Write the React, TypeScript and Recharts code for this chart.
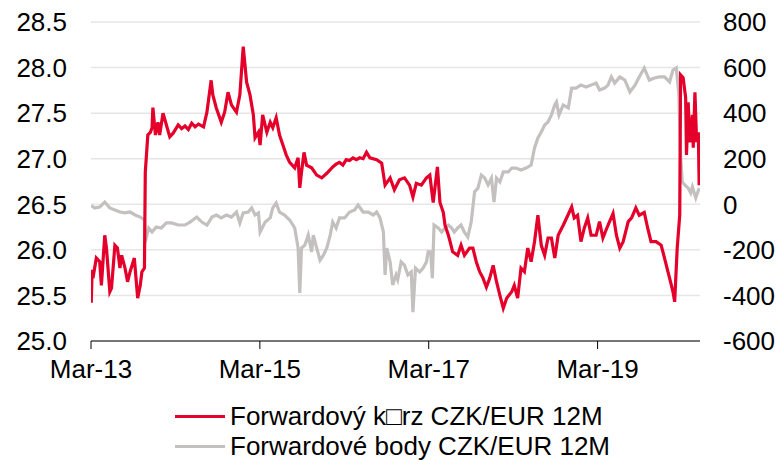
import { LineChart, Line, XAxis, YAxis, CartesianGrid } from "recharts";

const FONT = '"Liberation Sans", Arial, sans-serif';
const RED = "#e4002b";
const GREY = "#c4c0bf";

// x values are decimal years
const rateDates = [
  2013.17, 2013.18, 2013.19, 2013.23, 2013.27, 2013.29, 2013.33, 2013.35, 2013.39, 2013.41,
  2013.45, 2013.48, 2013.51, 2013.53, 2013.57, 2013.6, 2013.63, 2013.68, 2013.72, 2013.75,
  2013.77, 2013.8, 2013.81, 2013.84, 2013.87, 2013.89, 2013.9, 2013.93, 2013.96, 2013.98,
  2014.02, 2014.06, 2014.1, 2014.14, 2014.2, 2014.24, 2014.28, 2014.32, 2014.36, 2014.4,
  2014.44, 2014.5, 2014.54,
  2014.59, 2014.61, 2014.65, 2014.71, 2014.75, 2014.79, 2014.83, 2014.89, 2014.93, 2014.97,
  2015.01, 2015.05, 2015.09, 2015.11, 2015.15, 2015.17, 2015.2, 2015.25, 2015.29, 2015.32,
  2015.36, 2015.4, 2015.44, 2015.48, 2015.52, 2015.58, 2015.62, 2015.64, 2015.66, 2015.69,
  2015.72, 2015.78, 2015.84, 2015.9, 2015.96, 2016.03, 2016.07, 2016.11, 2016.15, 2016.19,
  2016.23, 2016.27, 2016.31, 2016.35, 2016.39,
  2016.43, 2016.47, 2016.55, 2016.61, 2016.65, 2016.71, 2016.76, 2016.82, 2016.88, 2016.94,
  2016.98, 2017.02, 2017.08, 2017.14, 2017.18, 2017.22, 2017.27, 2017.3, 2017.34, 2017.36,
  2017.4, 2017.42, 2017.45, 2017.51, 2017.55, 2017.59, 2017.65, 2017.69, 2017.73, 2017.77,
  2017.81, 2017.85, 2017.89, 2017.93, 2017.97, 2018.01, 2018.05, 2018.09, 2018.15, 2018.18,
  2018.22, 2018.26, 2018.3, 2018.34, 2018.38, 2018.42, 2018.46, 2018.5, 2018.54, 2018.58,
  2018.62, 2018.66, 2018.7, 2018.76, 2018.8, 2018.86, 2018.89, 2018.93, 2018.97, 2019.01,
  2019.05, 2019.09, 2019.15, 2019.19, 2019.23, 2019.29, 2019.35, 2019.39, 2019.43, 2019.47,
  2019.53, 2019.57, 2019.62, 2019.66, 2019.72, 2019.76, 2019.8, 2019.86, 2019.92, 2019.96,
  2020.0, 2020.02, 2020.06, 2020.08, 2020.11, 2020.14, 2020.15, 2020.18, 2020.21, 2020.22,
  2020.24, 2020.26, 2020.29, 2020.3, 2020.32, 2020.34, 2020.36, 2020.37,
];

const forwardRate = [
  25.42, 25.78, 25.69, 25.91, 25.87, 25.61, 26.16, 26.02, 25.54, 25.58,
  26.05, 26.02, 25.8, 25.94, 25.8, 25.65, 25.76, 25.91, 25.47, 25.61,
  25.76, 25.8, 26.85, 27.26, 27.29, 27.34, 27.56, 27.26, 27.4, 27.26,
  27.5, 27.37, 27.24, 27.28, 27.37, 27.33, 27.36, 27.32, 27.39, 27.35,
  27.38, 27.35, 27.51,
  27.86, 27.7, 27.56, 27.4, 27.51, 27.73, 27.59, 27.51, 27.7, 28.23,
  27.84, 27.7, 27.48, 27.23, 27.29, 27.15, 27.48, 27.29, 27.4, 27.34,
  27.45, 27.26, 27.15, 27.04, 26.96, 26.9, 27.01, 26.68, 26.85, 27.07,
  26.93, 26.9, 26.82, 26.79, 26.84, 26.91, 26.94, 26.96, 26.93, 26.99,
  26.98, 27.01, 26.99, 27.01, 27.0,
  27.07, 27.01, 26.99, 26.95, 26.71, 26.79, 26.66, 26.77, 26.79, 26.71,
  26.58, 26.73, 26.71, 26.79, 26.82, 26.52, 26.91, 26.52, 26.41, 26.27,
  26.16, 26.09, 25.98, 25.94, 26.05, 25.94, 26.02, 26.02, 25.87, 25.76,
  25.69, 25.59, 25.69, 25.83, 25.65, 25.5, 25.36, 25.47, 25.54, 25.61,
  25.47, 25.8, 25.76, 26.02, 25.87, 26.09, 26.38, 26.05, 25.94, 26.13,
  26.13, 25.91, 26.16, 26.27, 26.35, 26.47, 26.35, 26.38, 26.09, 26.24,
  26.35, 26.16, 26.16, 26.31, 26.13, 26.27, 26.4, 26.16, 26.02, 26.09,
  26.31, 26.35, 26.46, 26.38, 26.41, 26.24, 26.09, 26.09, 26.05, 25.91,
  25.76, 25.69, 25.54, 25.43, 26.02, 26.38, 27.92, 27.89, 27.67, 27.04,
  27.62, 27.18, 27.48, 27.12, 27.73, 27.18, 27.29, 26.71,
];

const pointsDates = [
  2013.17, 2013.21, 2013.27, 2013.33, 2013.39, 2013.45, 2013.51, 2013.57, 2013.63, 2013.69,
  2013.75, 2013.8, 2013.81, 2013.85, 2013.89, 2013.94, 2014.0, 2014.06, 2014.12, 2014.2,
  2014.28, 2014.34, 2014.42, 2014.48, 2014.54, 2014.6, 2014.65, 2014.71, 2014.77, 2014.83,
  2014.89, 2014.93, 2014.97, 2015.03, 2015.07, 2015.11, 2015.15, 2015.17, 2015.23, 2015.29,
  2015.32, 2015.36, 2015.4, 2015.46, 2015.52, 2015.58, 2015.62, 2015.64, 2015.66, 2015.7,
  2015.74, 2015.78, 2015.8, 2015.84, 2015.88, 2015.92, 2015.96, 2016.0, 2016.03, 2016.07,
  2016.11, 2016.17, 2016.23, 2016.29, 2016.33, 2016.39, 2016.45, 2016.51, 2016.55, 2016.59,
  2016.63, 2016.65, 2016.67, 2016.71, 2016.74, 2016.78, 2016.8, 2016.84, 2016.88, 2016.92,
  2016.96, 2016.98, 2017.01, 2017.06, 2017.1, 2017.14, 2017.16, 2017.19, 2017.21, 2017.23,
  2017.28, 2017.32, 2017.36, 2017.4, 2017.44, 2017.47, 2017.51, 2017.55, 2017.59, 2017.63,
  2017.67, 2017.71, 2017.75, 2017.79, 2017.83, 2017.87, 2017.91, 2017.94, 2017.97, 2018.01,
  2018.05, 2018.11, 2018.15, 2018.2, 2018.26, 2018.32, 2018.38, 2018.42, 2018.46, 2018.5,
  2018.54, 2018.58, 2018.62, 2018.66, 2018.68, 2018.71, 2018.76, 2018.82, 2018.86, 2018.91,
  2018.97, 2019.03, 2019.09, 2019.15, 2019.19, 2019.25, 2019.29, 2019.33, 2019.37, 2019.43,
  2019.49, 2019.55, 2019.61, 2019.66, 2019.72, 2019.78, 2019.84, 2019.9, 2019.96, 2020.02,
  2020.06, 2020.1, 2020.13, 2020.15, 2020.17, 2020.2, 2020.24, 2020.27, 2020.29, 2020.33,
  2020.37,
];

const forwardPoints = [
  -5, -16, -12, 10, -16, -25, -34, -38, -34, -47,
  -56, -69, -166, -104, -122, -100, -104, -82, -82, -91,
  -91, -78, -56, -78, -91, -56, -47, -60, -47, -56,
  -34, -82, -38, -34, -16, -47, -38, -122, -78, -60,
  -16, 6, -34, -47, -69, -104, -192, -389, -192, -179,
  -135, -209, -135, -192, -245, -223, -192, -135, -78, -104,
  -60, -60, -34, -25, -3, -34, -34, -47, -34, -60,
  -122, -310, -192, -253, -354, -310, -330, -253, -267, -310,
  -297, -473, -280, -297, -280, -253, -209, -209, -324, -91,
  -104, -122, -104, -91, -104, -122, -104, -91, -122, -144,
  -78, 54, 71, 128, 115, 85, 115, 10, 115, 98,
  142, 142, 159, 159, 150, 159, 172, 247, 291, 317,
  348, 361, 392, 436, 449, 392, 436, 423, 510, 510,
  523, 515, 523, 532, 502, 510, 523, 559, 532, 559,
  545, 493, 523, 559, 598, 545, 554, 559, 559, 537,
  589, 598, 480, 216, 98, 85, 71, 50, 76, 28,
  71,
];

const tickDates = [2013.167, 2015.167, 2017.167, 2019.167];
const tickLabels = ["Mar-13", "Mar-15", "Mar-17", "Mar-19"];
const leftTicks = [25.0, 25.5, 26.0, 26.5, 27.0, 27.5, 28.0, 28.5];
const rightTicks = [-600, -400, -200, 0, 200, 400, 600, 800];

const rateLabel = "Forwardový k\u25A1rz CZK/EUR 12M";
const pointsLabel = "Forwardové body CZK/EUR 12M";

type Row = { t: number; rate?: number; points?: number };

function buildData(): Row[] {
  const map = new Map<number, Row>();
  rateDates.forEach((t, i) => {
    const r = map.get(t) ?? { t };
    r.rate = forwardRate[i];
    map.set(t, r);
  });
  pointsDates.forEach((t, i) => {
    const r = map.get(t) ?? { t };
    r.points = forwardPoints[i];
    map.set(t, r);
  });
  return [...map.values()].sort((a, b) => a.t - b.t);
}

const data = buildData();

const tickStyle = { fill: "#000", fontSize: 26, fontFamily: FONT };

export default function App() {
  return (
    <div
      style={{
        position: "absolute",
        left: 0,
        top: 0,
        width: 779,
        height: 460,
        background: "#fff",
        overflow: "hidden",
        fontFamily: FONT,
      }}
    >
      <LineChart
        width={779}
        height={390}
        data={data}
        margin={{ top: 22, right: 0, left: 0, bottom: 0 }}
      >
        <CartesianGrid
          yAxisId="left"
          vertical={false}
          stroke="#e6e6e6"
          strokeWidth={1.5}
        />
        <XAxis
          dataKey="t"
          type="number"
          domain={[2013.167, 2020.38]}
          ticks={tickDates}
          tickFormatter={(v) => tickLabels[tickDates.indexOf(v)] ?? ""}
          stroke="#000"
          tick={tickStyle}
          tickSize={8}
          tickMargin={11}
          height={49}
          allowDataOverflow
        />
        <YAxis
          yAxisId="left"
          domain={[25, 28.5]}
          ticks={leftTicks}
          tickFormatter={(v) => Number(v).toFixed(1)}
          axisLine={false}
          tickLine={false}
          tickSize={0}
          tickMargin={24}
          width={91}
          tick={tickStyle}
        />
        <YAxis
          yAxisId="right"
          orientation="right"
          domain={[-600, 800]}
          ticks={rightTicks}
          axisLine={false}
          tickLine={false}
          tickSize={0}
          tickMargin={23}
          width={79}
          tick={{ ...tickStyle, textAnchor: "start" }}
        />
        <Line
          yAxisId="right"
          dataKey="points"
          type="linear"
          stroke={GREY}
          strokeWidth={3.2}
          dot={false}
          connectNulls
          isAnimationActive={false}
        />
        <Line
          yAxisId="left"
          dataKey="rate"
          type="linear"
          stroke={RED}
          strokeWidth={3.2}
          dot={false}
          connectNulls
          isAnimationActive={false}
        />
      </LineChart>
      {[
        { label: rateLabel, color: RED, y: 416 },
        { label: pointsLabel, color: GREY, y: 446 },
      ].map((item) => (
        <div
          key={item.label}
          style={{
            position: "absolute",
            left: 175,
            top: item.y - 15,
            height: 30,
            display: "flex",
            alignItems: "center",
            fontSize: 26,
            color: "#000",
            whiteSpace: "nowrap",
          }}
        >
          <span
            style={{
              display: "inline-block",
              width: 50,
              height: 3,
              background: item.color,
              marginRight: 5,
            }}
          />
          {item.label}
        </div>
      ))}
    </div>
  );
}
